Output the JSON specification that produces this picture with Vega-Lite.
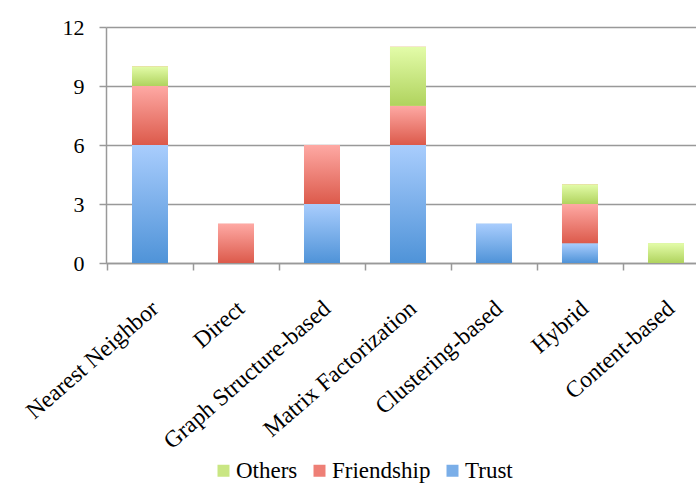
{
  "$schema": "https://vega.github.io/schema/vega-lite/v6.json",
  "autosize": {"type": "none"},
  "width": 590,
  "height": 236,
  "padding": {"left": 106, "top": 27, "right": 0, "bottom": 229},
  "background": "white",
  "config": {
    "view": {"stroke": null},
    "font": "Liberation Serif",
    "style": {
      "guide-label": {"font": "Liberation Serif, serif", "fontSize": 23, "fill": "#000000"}
    },
    "legend": {
      "labelFont": "Liberation Serif, serif",
      "labelFontSize": 23,
      "labelColor": "#000000",
      "labelOffset": 1,
      "columnPadding": 10,
      "symbolType": "square",
      "symbolSize": 144,
      "symbolStrokeWidth": 0
    }
  },
  "data": {
    "values": [
      {"cat": "Nearest Neighbor", "series": "Trust", "value": 6},
      {"cat": "Nearest Neighbor", "series": "Friendship", "value": 3},
      {"cat": "Nearest Neighbor", "series": "Others", "value": 1},
      {"cat": "Direct", "series": "Friendship", "value": 2},
      {"cat": "Graph Structure-based", "series": "Trust", "value": 3},
      {"cat": "Graph Structure-based", "series": "Friendship", "value": 3},
      {"cat": "Matrix Factorization", "series": "Trust", "value": 6},
      {"cat": "Matrix Factorization", "series": "Friendship", "value": 2},
      {"cat": "Matrix Factorization", "series": "Others", "value": 3},
      {"cat": "Clustering-based", "series": "Trust", "value": 2},
      {"cat": "Hybrid", "series": "Trust", "value": 1},
      {"cat": "Hybrid", "series": "Friendship", "value": 2},
      {"cat": "Hybrid", "series": "Others", "value": 1},
      {"cat": "Content-based", "series": "Others", "value": 1}
    ]
  },
  "encoding": {
    "x": {
      "field": "cat",
      "type": "nominal",
      "sort": null,
      "scale": {"paddingInner": 0.5814, "paddingOuter": 0.221, "align": 0.684},
      "axis": {
        "title": null,
        "labelAngle": -41,
        "labelFont": "Liberation Serif",
        "labelFontSize": 23.5,
        "labelColor": "#000000",
        "labelPadding": 26,
        "labelLimit": 0,
        "tickOffset": -43,
        "labelOffset": 40,
        "tickSize": 7,
        "tickColor": "#999999",
        "tickWidth": 1.5,
        "domainColor": "#999999",
        "domainWidth": 1.5,
        "grid": false
      }
    },
    "y": {
      "field": "value",
      "type": "quantitative",
      "stack": "zero",
      "scale": {"domain": [0, 12], "nice": false},
      "axis": {
        "title": null,
        "values": [0, 3, 6, 9, 12],
        "labelFont": "Liberation Serif",
        "labelFontSize": 22,
        "labelColor": "#000000",
        "labelPadding": 15,
        "tickSize": 7,
        "tickColor": "#999999",
        "tickWidth": 1.5,
        "domainColor": "#999999",
        "domainWidth": 1.5,
        "grid": true,
        "gridColor": "#999999",
        "gridWidth": 1.5
      }
    }
  },
  "layer": [
    {
      "mark": {"type": "bar"},
      "encoding": {
        "color": {
          "field": "series",
          "type": "nominal",
          "sort": ["Trust", "Friendship", "Others"],
          "scale": {"domain": ["Trust", "Friendship", "Others"], "range": ["#7aaee8", "#ee7f76", "#c9e683"]},
          "legend": {
            "title": null,
            "orient": "none",
            "direction": "horizontal",
            "legendX": 106,
            "legendY": 432,
            "values": ["Others", "Friendship", "Trust"],
            "labelFont": "Liberation Serif, serif",
            "labelFontSize": 23,
            "labelColor": "#000000",
            "encode": {
              "labels": {"update": {"font": {"value": "Liberation Serif"}, "fontSize": {"value": 23}}}
            }
          }
        }
      }
    },
    {
      "mark": {"type": "bar"},
      "encoding": {
        "color": {
          "field": "series",
          "type": "nominal",
          "sort": ["Trust", "Friendship", "Others"],
          "legend": null
        },
        "fill": {
          "condition": [
            {"test": "datum.series === 'Trust'", "value": {"gradient": "linear", "x1": 0, "y1": 0, "x2": 0, "y2": 1, "stops": [{"offset": 0, "color": "#a9cdfd"}, {"offset": 1, "color": "#4f93d8"}]}},
            {"test": "datum.series === 'Friendship'", "value": {"gradient": "linear", "x1": 0, "y1": 0, "x2": 0, "y2": 1, "stops": [{"offset": 0, "color": "#fea9a4"}, {"offset": 1, "color": "#dc5a4b"}]}}
          ],
          "value": {"gradient": "linear", "x1": 0, "y1": 0, "x2": 0, "y2": 1, "stops": [{"offset": 0, "color": "#e3fca9"}, {"offset": 1, "color": "#b0d35e"}]}
        }
      }
    }
  ]
}
